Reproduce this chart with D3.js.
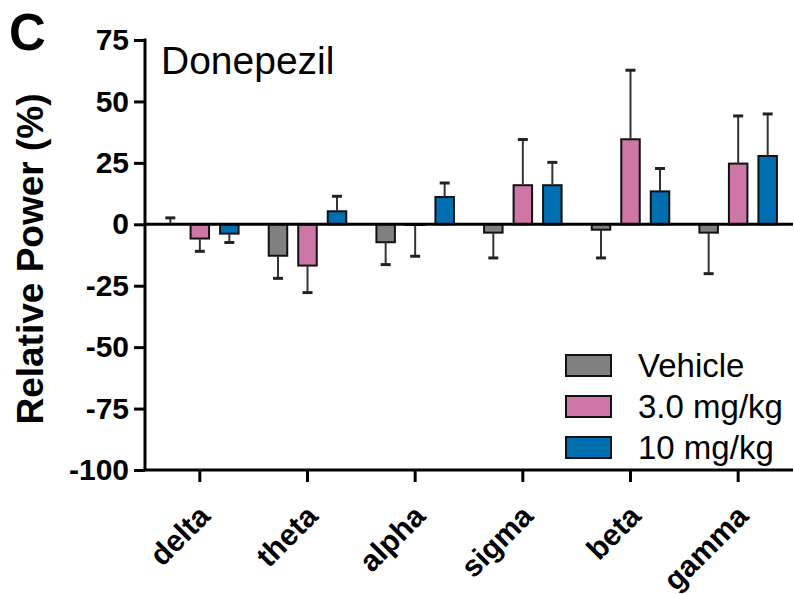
<!DOCTYPE html>
<html>
<head>
<meta charset="utf-8">
<script src="https://cdn.jsdelivr.net/npm/d3@7"></script>
<style>
  html, body { margin: 0; padding: 0; background: #fff; }
  svg { display: block; font-family: "Liberation Sans", Arial, sans-serif; }
</style>
</head>
<body>
<svg id="chart" width="794" height="594"></svg>
<script>
// EEG frequency bands and treatment groups
const bands = ["delta", "theta", "alpha", "sigma", "beta", "gamma"];
const groups = ["Vehicle", "3.0 mg/kg", "10 mg/kg"];
const groupColors = ["#808080", "#CE77A6", "#006FB1"];

// Mean relative power change (%) per band for each group
const vehicleMean = [0, -12.8, -7.3, -3.4, -2.2, -3.4];
const lowDoseMean = [-5.8, -16.8, -0.3, 15.9, 34.6, 24.7];
const highDoseMean = [-3.8, 5.3, 11.1, 15.9, 13.4, 27.8];

// Error (SEM) drawn away from zero
const vehicleErr = [2.6, 9.2, 9.1, 10.3, 11.5, 16.7];
const lowDoseErr = [5.2, 11.0, 12.7, 18.6, 28.1, 19.4];
const highDoseErr = [3.6, 6.1, 5.7, 9.3, 9.3, 17.1];

const yTicks = [75, 50, 25, 0, -25, -50, -75, -100];

const means = [vehicleMean, lowDoseMean, highDoseMean];
const errs = [vehicleErr, lowDoseErr, highDoseErr];

const rows = [];
bands.forEach((b, i) => {
  groups.forEach((g, j) => {
    rows.push({ band: b, group: g, gi: j, mean: means[j][i], err: errs[j][i] });
  });
});

const svg = d3.select("#chart");
const FONT = "'Liberation Sans', Arial, sans-serif";

const y = d3.scaleLinear().domain([-100, 75]).range([470, 40]);
const x0 = d3.scaleBand().domain(bands).range([146, 792]).paddingInner(0.28).paddingOuter(0.14);
const x1 = d3.scaleBand().domain(groups).range([0, x0.bandwidth()]).paddingInner(0.373).paddingOuter(0);

const barX = d => x0(d.band) + x1(d.group);
const barMid = d => barX(d) + x1.bandwidth() / 2;
const errEnd = d => y(d.mean >= 0 ? d.mean + d.err : d.mean - d.err);

// Bars
svg.append("g").selectAll("rect").data(rows).join("rect")
  .attr("x", barX)
  .attr("width", x1.bandwidth())
  .attr("y", d => y(Math.max(0, d.mean)))
  .attr("height", d => Math.abs(y(d.mean) - y(0)))
  .attr("fill", d => groupColors[d.gi])
  .attr("stroke", "#111")
  .attr("stroke-width", 2);

// Error bars (one-sided, away from zero)
const eb = svg.append("g").selectAll("g").data(rows).join("g");
eb.append("line")
  .attr("x1", barMid).attr("x2", barMid)
  .attr("y1", d => y(d.mean))
  .attr("y2", errEnd)
  .attr("stroke", "#333")
  .attr("stroke-width", 2);
eb.append("line")
  .attr("x1", d => barMid(d) - 5)
  .attr("x2", d => barMid(d) + 5)
  .attr("y1", errEnd).attr("y2", errEnd)
  .attr("stroke", "#222")
  .attr("stroke-width", 3);

// Zero line
svg.append("line")
  .attr("x1", 145).attr("x2", 793)
  .attr("y1", y(0)).attr("y2", y(0))
  .attr("stroke", "#000").attr("stroke-width", 3);

// Y axis
const yAxis = svg.append("g")
  .attr("transform", "translate(145,0)")
  .call(d3.axisLeft(y).tickValues(yTicks).tickFormat(d => String(d)).tickSize(11).tickPadding(5));
yAxis.select(".domain").attr("stroke", "#000").attr("stroke-width", 3)
  .attr("d", `M0,${y(75) - 1.5}V${y(-100)}`);
yAxis.selectAll(".tick line").attr("stroke", "#000").attr("stroke-width", 3);
yAxis.selectAll(".tick text")
  .attr("font-size", 30).attr("font-weight", "bold").attr("fill", "#000")
  .attr("font-family", FONT);

// X axis (band labels, ticks at group centres)
const xAxis = svg.append("g")
  .attr("transform", `translate(0,${y(-100)})`)
  .call(d3.axisBottom(x0).tickSize(12).tickPadding(0));
xAxis.select(".domain").attr("stroke", "#000").attr("stroke-width", 3)
  .attr("d", "M143.5,0H793");
xAxis.selectAll(".tick line").attr("stroke", "#000").attr("stroke-width", 3);
xAxis.selectAll(".tick text")
  .attr("font-size", 30).attr("font-weight", "bold").attr("fill", "#000")
  .attr("font-family", FONT)
  .attr("text-anchor", "end")
  .attr("dy", 0)
  .attr("y", 0)
  .attr("transform", "translate(12,48) rotate(-45)");

// Axis title
svg.append("text")
  .attr("transform", "translate(43,259) rotate(-90)")
  .attr("text-anchor", "middle")
  .attr("font-size", 37).attr("font-weight", "bold")
  .text("Relative Power (%)");

// Panel letter and drug name
svg.append("text").attr("x", 9).attr("y", 50)
  .attr("font-size", 51).attr("font-weight", "bold").text("C");
svg.append("text").attr("x", 161).attr("y", 74)
  .attr("font-size", 39).text("Donepezil");

// Legend
const legend = svg.append("g").selectAll("g").data(groups).join("g")
  .attr("transform", (d, i) => `translate(566,${355 + i * 41})`);
legend.append("rect")
  .attr("width", 45).attr("height", 21)
  .attr("fill", (d, i) => groupColors[i])
  .attr("stroke", "#111").attr("stroke-width", 2);
legend.append("text")
  .attr("x", 72).attr("y", 22)
  .attr("font-size", 33)
  .text(d => d);
</script>
</body>
</html>
